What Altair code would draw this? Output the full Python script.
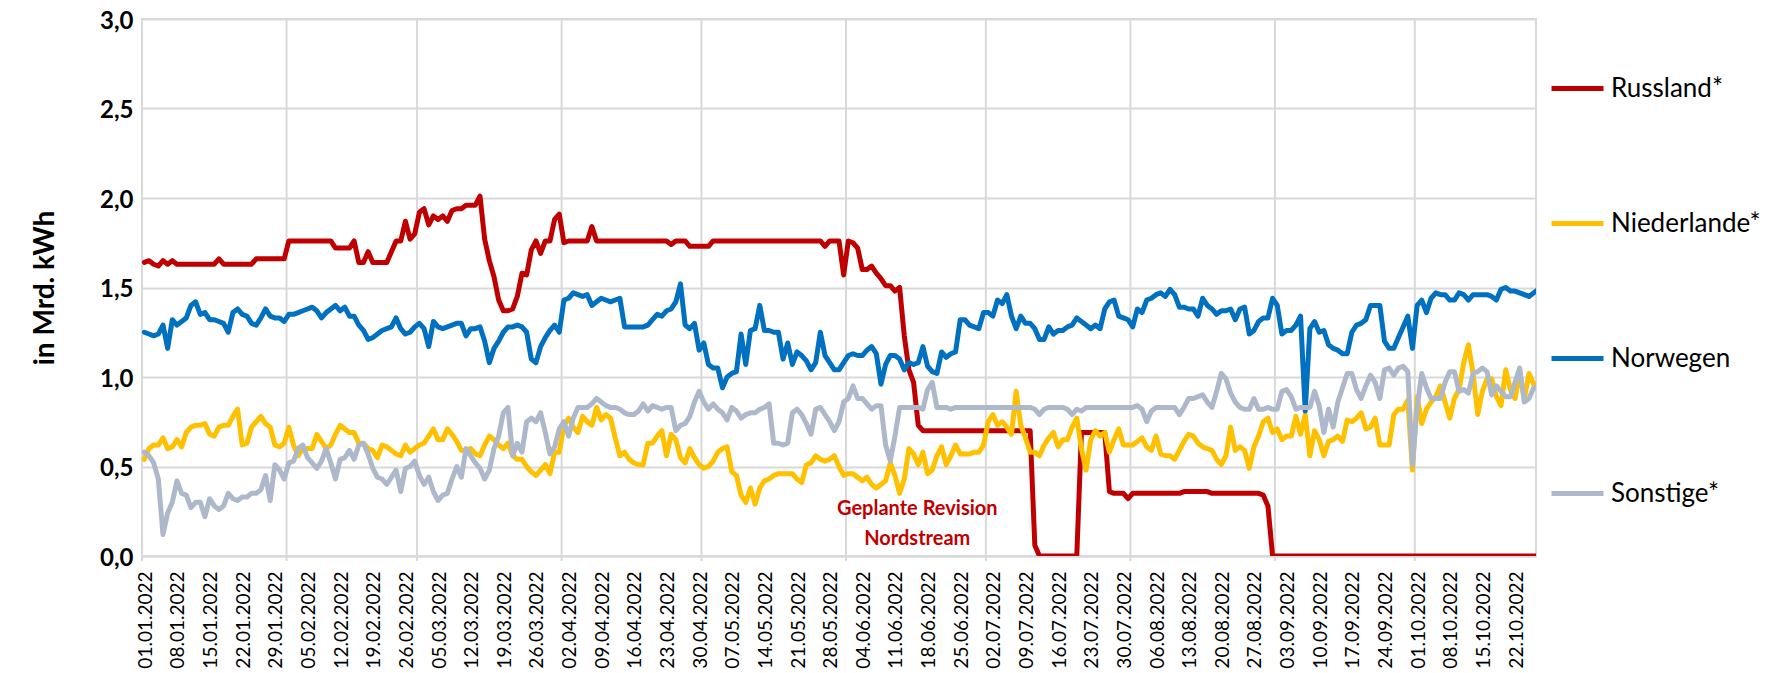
import altair as alt
import pandas as pd

START = "2022-01-01"
N_DAYS = 300

russland = [
    1.64, 1.65, 1.63, 1.62, 1.65, 1.63, 1.65, 1.63, 1.63, 1.63,
    1.63, 1.63, 1.63, 1.63, 1.63, 1.63, 1.66, 1.63, 1.63, 1.63,
    1.63, 1.63, 1.63, 1.63, 1.66, 1.66, 1.66, 1.66, 1.66, 1.66,
    1.66, 1.76, 1.76, 1.76, 1.76, 1.76, 1.76, 1.76, 1.76, 1.76,
    1.76, 1.72, 1.72, 1.72, 1.72, 1.76, 1.64, 1.64, 1.70, 1.64,
    1.64, 1.64, 1.64, 1.70, 1.76, 1.76, 1.87, 1.77, 1.80, 1.92,
    1.94, 1.85, 1.90, 1.88, 1.90, 1.87, 1.93, 1.94, 1.94, 1.96,
    1.96, 1.96, 2.01, 1.77, 1.65, 1.56, 1.43, 1.37, 1.37, 1.38,
    1.45, 1.58, 1.57, 1.71, 1.76, 1.69, 1.76, 1.76, 1.88, 1.91,
    1.75, 1.76, 1.76, 1.76, 1.76, 1.76, 1.84, 1.76, 1.76, 1.76,
    1.76, 1.76, 1.76, 1.76, 1.76, 1.76, 1.76, 1.76, 1.76, 1.76,
    1.76, 1.76, 1.76, 1.74, 1.76, 1.76, 1.76, 1.73, 1.73, 1.73,
    1.73, 1.73, 1.76, 1.76, 1.76, 1.76, 1.76, 1.76, 1.76, 1.76,
    1.76, 1.76, 1.76, 1.76, 1.76, 1.76, 1.76, 1.76, 1.76, 1.76,
    1.76, 1.76, 1.76, 1.76, 1.76, 1.76, 1.73, 1.76, 1.76, 1.76,
    1.57, 1.76, 1.75, 1.72, 1.60, 1.60, 1.62, 1.58, 1.55, 1.51,
    1.51, 1.48, 1.50, 1.23, 1.04, 0.97, 0.73, 0.70, 0.70, 0.70,
    0.70, 0.70, 0.70, 0.70, 0.70, 0.70, 0.70, 0.70, 0.70, 0.70,
    0.70, 0.70, 0.70, 0.70, 0.70, 0.70, 0.70, 0.70, 0.70, 0.70,
    0.70, 0.06, 0.00, 0.00, 0.00, 0.00, 0.00, 0.00, 0.00, 0.00,
    0.00, 0.69, 0.69, 0.69, 0.69, 0.69, 0.69, 0.36, 0.35, 0.35,
    0.35, 0.32, 0.35, 0.35, 0.35, 0.35, 0.35, 0.35, 0.35, 0.35,
    0.35, 0.35, 0.35, 0.36, 0.36, 0.36, 0.36, 0.36, 0.36, 0.35,
    0.35, 0.35, 0.35, 0.35, 0.35, 0.35, 0.35, 0.35, 0.35, 0.35,
    0.34, 0.28, 0.00, 0.00, 0.00, 0.00, 0.00, 0.00, 0.00, 0.00,
    0.00, 0.00, 0.00, 0.00, 0.00, 0.00, 0.00, 0.00, 0.00, 0.00,
    0.00, 0.00, 0.00, 0.00, 0.00, 0.00, 0.00, 0.00, 0.00, 0.00,
    0.00, 0.00, 0.00, 0.00, 0.00, 0.00, 0.00, 0.00, 0.00, 0.00,
    0.00, 0.00, 0.00, 0.00, 0.00, 0.00, 0.00, 0.00, 0.00, 0.00,
    0.00, 0.00, 0.00, 0.00, 0.00, 0.00, 0.00, 0.00, 0.00, 0.00,
]

niederlande = [
    0.54, 0.60, 0.62, 0.62, 0.66, 0.60, 0.61, 0.65, 0.61, 0.69,
    0.72, 0.73, 0.73, 0.74, 0.68, 0.67, 0.72, 0.73, 0.73, 0.78,
    0.82, 0.62, 0.63, 0.72, 0.75, 0.78, 0.74, 0.72, 0.62, 0.61,
    0.63, 0.72, 0.62, 0.56, 0.60, 0.60, 0.60, 0.68, 0.64, 0.60,
    0.62, 0.68, 0.73, 0.71, 0.69, 0.69, 0.63, 0.63, 0.60, 0.59,
    0.55, 0.62, 0.61, 0.59, 0.57, 0.56, 0.62, 0.58, 0.60, 0.62,
    0.63, 0.67, 0.71, 0.65, 0.65, 0.71, 0.68, 0.64, 0.59, 0.59,
    0.60, 0.57, 0.56, 0.62, 0.67, 0.65, 0.62, 0.60, 0.63, 0.56,
    0.54, 0.54, 0.50, 0.47, 0.45, 0.48, 0.51, 0.46, 0.58, 0.58,
    0.73, 0.77, 0.72, 0.69, 0.78, 0.75, 0.73, 0.83, 0.76, 0.79,
    0.77, 0.66, 0.56, 0.58, 0.54, 0.52, 0.51, 0.51, 0.63, 0.63,
    0.67, 0.70, 0.56, 0.68, 0.65, 0.55, 0.52, 0.60, 0.55, 0.51,
    0.49, 0.50, 0.53, 0.58, 0.60, 0.61, 0.47, 0.45, 0.34, 0.30,
    0.38, 0.29, 0.38, 0.42, 0.43, 0.45, 0.46, 0.46, 0.46, 0.46,
    0.43, 0.41, 0.51, 0.52, 0.56, 0.54, 0.53, 0.54, 0.56, 0.50,
    0.45, 0.46, 0.46, 0.44, 0.42, 0.44, 0.40, 0.38, 0.40, 0.42,
    0.52, 0.45, 0.35, 0.43, 0.60, 0.57, 0.51, 0.58, 0.46, 0.48,
    0.56, 0.61, 0.51, 0.56, 0.62, 0.57, 0.57, 0.57, 0.58, 0.58,
    0.62, 0.75, 0.79, 0.73, 0.75, 0.72, 0.68, 0.92, 0.73, 0.66,
    0.58, 0.58, 0.56, 0.62, 0.66, 0.69, 0.61, 0.65, 0.65, 0.72,
    0.77, 0.60, 0.48, 0.65, 0.70, 0.67, 0.69, 0.58, 0.65, 0.71,
    0.62, 0.62, 0.62, 0.64, 0.66, 0.61, 0.59, 0.67, 0.57, 0.56,
    0.56, 0.54, 0.59, 0.64, 0.68, 0.67, 0.63, 0.61, 0.60, 0.59,
    0.54, 0.51, 0.56, 0.72, 0.59, 0.61, 0.59, 0.49, 0.61, 0.67,
    0.75, 0.77, 0.69, 0.71, 0.65, 0.67, 0.67, 0.78, 0.68, 0.79,
    0.56, 0.70, 0.65, 0.56, 0.64, 0.65, 0.67, 0.64, 0.76, 0.75,
    0.77, 0.80, 0.71, 0.72, 0.77, 0.62, 0.62, 0.62, 0.79, 0.82,
    0.82, 0.87, 0.48, 0.89, 0.74, 0.82, 0.86, 0.89, 0.95, 0.86,
    0.77, 0.88, 0.93, 1.08, 1.18, 1.02, 0.79, 0.92, 0.99, 0.99,
    0.89, 0.84, 1.04, 0.93, 0.88, 1.02, 0.88, 1.02, 0.96, 0.96,
]

norwegen = [
    1.25, 1.24, 1.23, 1.24, 1.29, 1.16, 1.32, 1.29, 1.31, 1.33,
    1.40, 1.42, 1.35, 1.36, 1.32, 1.32, 1.31, 1.30, 1.25, 1.36,
    1.38, 1.35, 1.34, 1.30, 1.29, 1.33, 1.38, 1.34, 1.33, 1.33,
    1.31, 1.35, 1.35, 1.36, 1.37, 1.38, 1.39, 1.37, 1.33, 1.36,
    1.38, 1.40, 1.37, 1.39, 1.34, 1.34, 1.29, 1.26, 1.21, 1.22,
    1.24, 1.26, 1.27, 1.28, 1.33, 1.27, 1.24, 1.25, 1.28, 1.30,
    1.27, 1.17, 1.31, 1.28, 1.27, 1.28, 1.29, 1.30, 1.30, 1.23,
    1.27, 1.27, 1.28, 1.20, 1.08, 1.16, 1.20, 1.25, 1.28, 1.28,
    1.29, 1.28, 1.25, 1.10, 1.08, 1.17, 1.22, 1.26, 1.29, 1.25,
    1.43, 1.44, 1.47, 1.46, 1.45, 1.46, 1.40, 1.42, 1.44, 1.43,
    1.42, 1.43, 1.44, 1.28, 1.28, 1.28, 1.28, 1.28, 1.29, 1.32,
    1.35, 1.34, 1.37, 1.38, 1.42, 1.52, 1.29, 1.27, 1.30, 1.15,
    1.19, 1.07, 1.05, 1.05, 0.94, 1.00, 1.02, 1.03, 1.24, 1.07,
    1.26, 1.27, 1.40, 1.26, 1.26, 1.25, 1.25, 1.10, 1.19, 1.07,
    1.14, 1.12, 1.09, 1.04, 1.08, 1.25, 1.12, 1.08, 1.04, 1.04,
    1.08, 1.12, 1.13, 1.12, 1.12, 1.15, 1.17, 1.13, 0.96, 1.07,
    1.12, 1.12, 1.10, 1.04, 1.08, 1.07, 1.08, 1.17, 1.06, 1.03,
    1.02, 1.14, 1.11, 1.13, 1.14, 1.32, 1.32, 1.29, 1.28, 1.27,
    1.36, 1.36, 1.34, 1.43, 1.41, 1.46, 1.34, 1.27, 1.34, 1.30,
    1.30, 1.27, 1.21, 1.21, 1.28, 1.24, 1.26, 1.26, 1.28, 1.29,
    1.33, 1.31, 1.29, 1.27, 1.29, 1.27, 1.38, 1.42, 1.43, 1.34,
    1.33, 1.32, 1.28, 1.38, 1.36, 1.43, 1.44, 1.46, 1.47, 1.45,
    1.49, 1.46, 1.39, 1.39, 1.38, 1.38, 1.34, 1.44, 1.40, 1.38,
    1.35, 1.37, 1.37, 1.38, 1.32, 1.38, 1.39, 1.24, 1.26, 1.31,
    1.33, 1.33, 1.44, 1.40, 1.24, 1.26, 1.26, 1.29, 1.34, 0.81,
    1.27, 1.31, 1.25, 1.26, 1.18, 1.16, 1.15, 1.13, 1.13, 1.25,
    1.29, 1.30, 1.32, 1.40, 1.40, 1.40, 1.20, 1.16, 1.16, 1.22,
    1.28, 1.34, 1.16, 1.40, 1.43, 1.36, 1.44, 1.47, 1.46, 1.46,
    1.43, 1.43, 1.47, 1.46, 1.43, 1.46, 1.46, 1.46, 1.46, 1.45,
    1.43, 1.49, 1.50, 1.48, 1.48, 1.47, 1.46, 1.45, 1.47, 1.49,
]

sonstige = [
    0.58, 0.56, 0.52, 0.43, 0.12, 0.24, 0.30, 0.42, 0.35, 0.34,
    0.27, 0.30, 0.30, 0.22, 0.32, 0.28, 0.26, 0.28, 0.35, 0.32,
    0.31, 0.33, 0.33, 0.35, 0.35, 0.37, 0.45, 0.31, 0.51, 0.48,
    0.43, 0.52, 0.53, 0.60, 0.62, 0.55, 0.52, 0.49, 0.53, 0.60,
    0.52, 0.43, 0.54, 0.55, 0.59, 0.54, 0.62, 0.63, 0.57, 0.49,
    0.44, 0.43, 0.40, 0.44, 0.48, 0.36, 0.49, 0.50, 0.53, 0.45,
    0.40, 0.44, 0.36, 0.31, 0.34, 0.35, 0.43, 0.50, 0.44, 0.60,
    0.56, 0.52, 0.49, 0.43, 0.48, 0.60, 0.67, 0.80, 0.83, 0.56,
    0.63, 0.58, 0.75, 0.77, 0.75, 0.80, 0.69, 0.57, 0.61, 0.71,
    0.75, 0.67, 0.77, 0.83, 0.83, 0.83, 0.85, 0.88, 0.86, 0.84,
    0.83, 0.83, 0.82, 0.80, 0.79, 0.79, 0.81, 0.85, 0.81, 0.84,
    0.83, 0.82, 0.83, 0.83, 0.70, 0.73, 0.74, 0.78, 0.86, 0.92,
    0.86, 0.82, 0.85, 0.82, 0.80, 0.76, 0.83, 0.81, 0.77, 0.79,
    0.80, 0.80, 0.82, 0.83, 0.85, 0.63, 0.63, 0.62, 0.63, 0.80,
    0.82, 0.79, 0.74, 0.68, 0.82, 0.83, 0.79, 0.75, 0.70, 0.75,
    0.86, 0.88, 0.95, 0.88, 0.88, 0.85, 0.82, 0.84, 0.84, 0.62,
    0.53, 0.67, 0.83, 0.83, 0.83, 0.83, 0.83, 0.82, 0.93, 0.97,
    0.83, 0.83, 0.83, 0.82, 0.83, 0.83, 0.83, 0.83, 0.83, 0.83,
    0.83, 0.83, 0.83, 0.83, 0.83, 0.83, 0.83, 0.83, 0.83, 0.83,
    0.83, 0.82, 0.79, 0.82, 0.83, 0.83, 0.83, 0.83, 0.82, 0.79,
    0.82, 0.81, 0.83, 0.83, 0.83, 0.83, 0.83, 0.83, 0.83, 0.83,
    0.83, 0.83, 0.83, 0.84, 0.82, 0.75, 0.81, 0.83, 0.83, 0.83,
    0.83, 0.83, 0.79, 0.83, 0.88, 0.88, 0.89, 0.90, 0.86, 0.83,
    0.92, 1.02, 0.99, 0.91, 0.86, 0.83, 0.82, 0.82, 0.88, 0.82,
    0.82, 0.83, 0.82, 0.82, 0.92, 0.93, 0.89, 0.82, 0.83, 0.83,
    0.83, 0.92, 0.84, 0.69, 0.82, 0.72, 0.86, 0.94, 1.02, 1.02,
    0.93, 0.88, 0.95, 1.01, 0.97, 0.88, 1.04, 1.05, 1.01, 1.05,
    1.06, 1.03, 0.51, 0.83, 1.02, 0.94, 0.88, 0.88, 0.88, 0.97,
    1.03, 1.03, 0.92, 0.93, 0.91, 1.02, 1.03, 1.05, 1.03, 0.90,
    0.95, 0.92, 0.89, 0.89, 0.97, 1.05, 0.86, 0.88, 0.94, 0.94,
]

series_names = ["Russland*", "Niederlande*", "Norwegen", "Sonstige*"]
series_colors = ["#C00000", "#FFC000", "#0070C0", "#ADB9CA"]

label_dates = [
    "2022-01-01", "2022-01-08", "2022-01-15", "2022-01-22", "2022-01-29",
    "2022-02-05", "2022-02-12", "2022-02-19", "2022-02-26",
    "2022-03-05", "2022-03-12", "2022-03-19", "2022-03-26",
    "2022-04-02", "2022-04-09", "2022-04-16", "2022-04-23", "2022-04-30",
    "2022-05-07", "2022-05-14", "2022-05-21", "2022-05-28",
    "2022-06-04", "2022-06-11", "2022-06-18", "2022-06-25",
    "2022-07-02", "2022-07-09", "2022-07-16", "2022-07-23", "2022-07-30",
    "2022-08-06", "2022-08-13", "2022-08-20", "2022-08-27",
    "2022-09-03", "2022-09-10", "2022-09-17", "2022-09-24",
    "2022-10-01", "2022-10-08", "2022-10-15", "2022-10-22",
]
month_dates = [
    "2022-01-01", "2022-02-01", "2022-03-01", "2022-04-01", "2022-05-01",
    "2022-06-01", "2022-07-01", "2022-08-01", "2022-09-01", "2022-10-01",
]
y_ticks = [0.0, 0.5, 1.0, 1.5, 2.0, 2.5, 3.0]

annot_text = ["Geplante Revision", "Nordstream"]
annot_date = ["2022-06-16T07:00:00", "2022-06-16T07:00:00"]
annot_value = [0.261, 0.093]

for s in (russland, niederlande, norwegen, sonstige):
    assert len(s) == N_DAYS

W, H = 1394, 537


def dt(s, hours=0):
    y, m, d = (int(p) for p in s.split("-"))
    return alt.DateTime(year=y, month=m, date=d, hours=hours)


# each daily value sits in the middle of its day slot (category-style date axis)
dates = pd.date_range(START, periods=N_DAYS, freq="D").strftime("%Y-%m-%dT12:00:00")
frames = []
for name, vals in zip(series_names, [russland, niederlande, norwegen, sonstige]):
    frames.append(pd.DataFrame({"date": dates, "value": vals, "series": name}))
df = pd.concat(frames, ignore_index=True)

months_df = pd.DataFrame({"date": [d + "T00:00:00" for d in month_dates]})
annot_df = pd.DataFrame({"date": annot_date, "value": annot_value, "text": annot_text})

x_axis = alt.Axis(
    values=[dt(d, 12) for d in label_dates],
    format="%d.%m.%Y",
    labelAngle=270,
    labelFontSize=19,
    labelColor="#000000",
    labelPadding=15,
    labelOffset=1,
    labelOverlap=False,
    labelFlush=False,
    ticks=False,
    grid=False,
    domain=True,
    domainColor="#D9D9D9",
    domainWidth=2,
    title=None,
)
x_scale = alt.Scale(domain=[dt("2022-01-01"), dt("2022-10-27")], nice=False)
x_enc = alt.X("date:T", scale=x_scale, axis=x_axis)

y_axis = alt.Axis(
    values=y_ticks,
    labelExpr="replace(format(datum.value, '.1f'), '.', ',')",
    grid=True,
    gridColor="#D9D9D9",
    gridWidth=2,
    domain=False,
    ticks=False,
    labelFontSize=24,
    labelFontWeight="bold",
    labelColor="#000000",
    labelPadding=9,
    labelBaseline="alphabetic",
    labelOffset=9,
    labelFlush=False,
    title="in Mrd. kWh",
    titleFontSize=28,
    titleFontWeight="bold",
    titleColor="#000000",
    titleAngle=270,
    titleX=-97,
    titleY=H / 2,
    titleAlign="center",
    titleBaseline="middle",
)
y_enc = alt.Y("value:Q", scale=alt.Scale(domain=[0, 3], nice=False), axis=y_axis)

color_enc = alt.Color(
    "series:N",
    scale=alt.Scale(domain=series_names, range=series_colors),
    legend=alt.Legend(
        orient="none",
        legendX=1407,
        legendY=41,
        direction="vertical",
        title=None,
        symbolType="stroke",
        symbolSize=2704,
        symbolStrokeWidth=5,
        labelFontSize=26,
        labelColor="#000000",
        labelOffset=5,
        labelLimit=400,
        rowPadding=93,
    ),
)

month_rules = alt.Chart(months_df).mark_rule(color="#D9D9D9", strokeWidth=2).encode(
    x=x_enc, y=alt.value(0), y2=alt.value(H + 5)
)

lines = []
for name in series_names:
    lines.append(
        alt.Chart(df)
        .transform_filter(alt.datum.series == name)
        .mark_line(strokeWidth=5, strokeJoin="round", strokeCap="round", clip=True)
        .encode(x=x_enc, y=y_enc, color=color_enc)
    )

annot = alt.Chart(annot_df).mark_text(
    font="Lato", fontSize=20, fontWeight="bold", color="#C00000",
    align="center", baseline="middle",
).encode(x=x_enc, y=y_enc, text="text:N")

chart = (
    alt.layer(month_rules, *lines, annot)
    .properties(
        width=W,
        height=H,
        autosize=alt.AutoSizeParams(type="none"),
        padding={"left": 134, "top": 11, "right": 1756 - 134 - W, "bottom": 665 - 11 - H},
    )
    .configure(font="Lato")
    .configure_view(stroke="#D9D9D9", strokeWidth=2)
)

chart.save("out.html", embed_options={"renderer": "svg", "actions": False})
